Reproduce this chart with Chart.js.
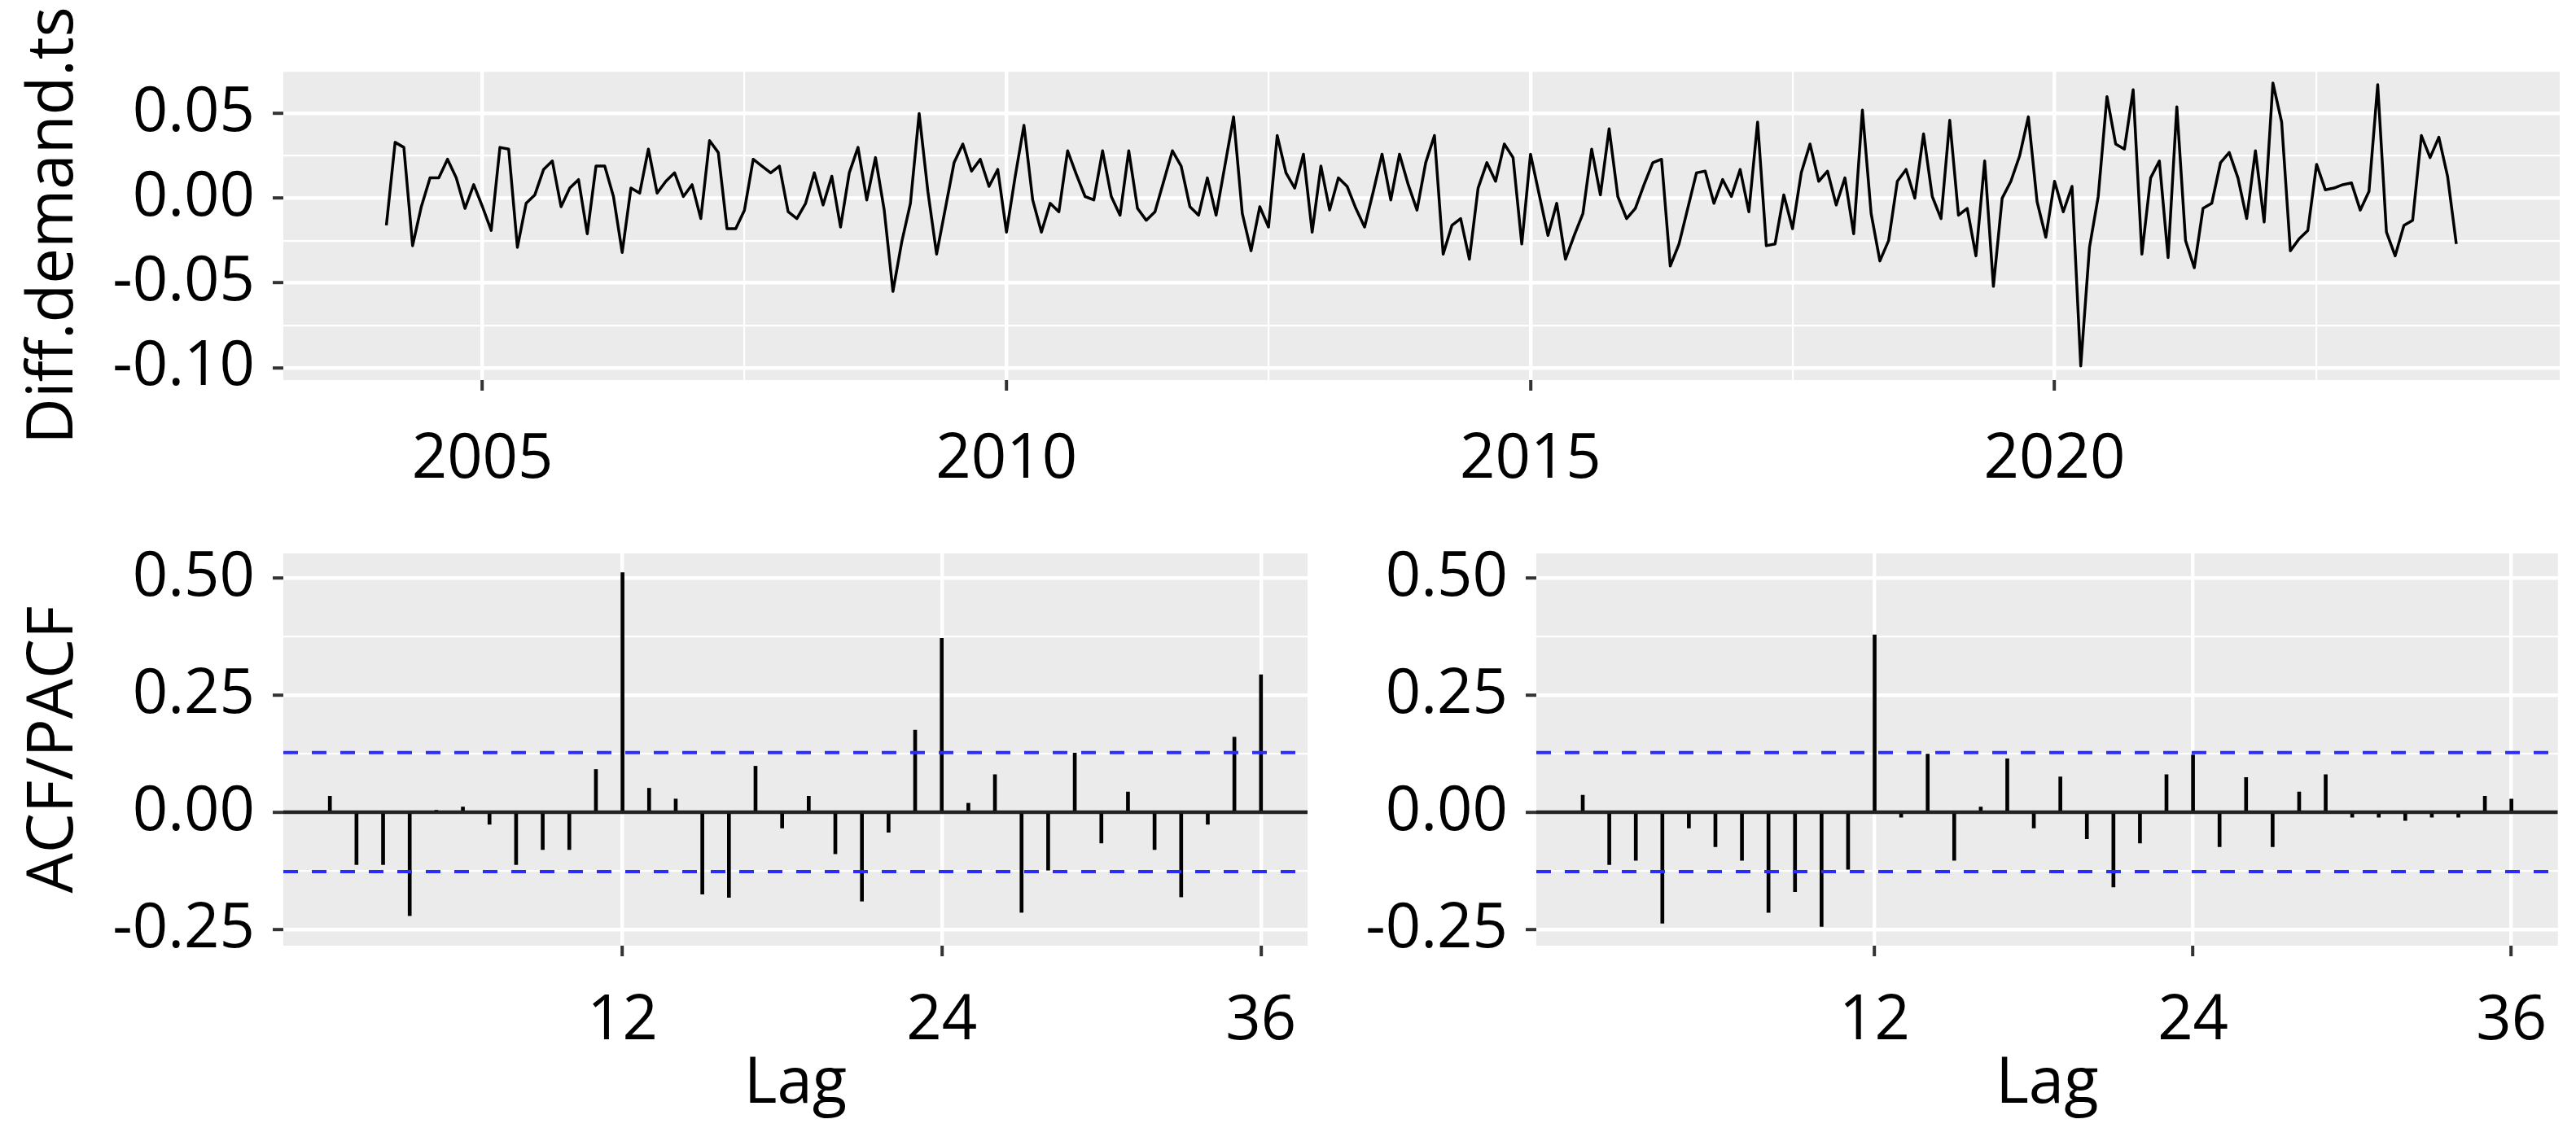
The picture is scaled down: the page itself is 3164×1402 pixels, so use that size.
<!DOCTYPE html>
<html>
<head>
<meta charset="utf-8">
<script src="https://cdn.jsdelivr.net/npm/chart.js@4.4.1/dist/chart.umd.min.js"></script>
<style>
  html, body { margin: 0; padding: 0; background: #fff; }
  #wrap { position: relative; width: 3164px; height: 1402px; overflow: hidden; }
  canvas { position: absolute; }
</style>
</head>
<body>
<div id="wrap">
  <canvas id="tsChart" width="3164" height="600" style="left:0;top:0"></canvas>
  <canvas id="acfChart" width="1640" height="802" style="left:0;top:600px"></canvas>
  <canvas id="pacfChart" width="1524" height="802" style="left:1640px;top:600px"></canvas>
</div>
<script>
// monthly differenced demand, Feb 2004 .. Nov 2023
const startYear = 2004;
const startMonth = 2;
const diffDemand = [
  -0.016, 0.033, 0.030, -0.028, -0.005, 0.012, 0.012, 0.023, 0.012, -0.006, 0.008,
  -0.005, -0.019, 0.030, 0.029, -0.029, -0.003, 0.002, 0.017, 0.022, -0.005, 0.006, 0.011,
  -0.021, 0.019, 0.019, 0.001, -0.032, 0.006, 0.003, 0.029, 0.003, 0.010, 0.015, 0.001,
  0.008, -0.012, 0.034, 0.027, -0.018, -0.018, -0.007, 0.023, 0.019, 0.015, 0.019, -0.008,
  -0.012, -0.003, 0.015, -0.004, 0.013, -0.017, 0.015, 0.030, -0.001, 0.024, -0.007, -0.055,
  -0.026, -0.003, 0.050, 0.004, -0.033, -0.006, 0.021, 0.032, 0.016, 0.023, 0.007, 0.017,
  -0.020, 0.013, 0.043, -0.001, -0.020, -0.003, -0.008, 0.028, 0.014, 0.001, -0.001, 0.028,
  0.001, -0.010, 0.028, -0.006, -0.013, -0.008, 0.010, 0.028, 0.019, -0.005, -0.010, 0.012,
  -0.010, 0.019, 0.048, -0.009, -0.031, -0.005, -0.017, 0.037, 0.015, 0.006, 0.026, -0.020,
  0.019, -0.007, 0.012, 0.007, -0.006, -0.017, 0.004, 0.026, -0.001, 0.026, 0.008, -0.007,
  0.021, 0.037, -0.033, -0.016, -0.012, -0.036, 0.006, 0.021, 0.010, 0.032, 0.024, -0.027,
  0.026, 0.002, -0.022, -0.003, -0.036, -0.022, -0.009, 0.029, 0.002, 0.041, 0.001, -0.012,
  -0.006, 0.008, 0.021, 0.023, -0.040, -0.027, -0.006, 0.015, 0.016, -0.003, 0.011, 0.001,
  0.017, -0.008, 0.045, -0.028, -0.027, 0.002, -0.018, 0.015, 0.032, 0.010, 0.016, -0.004,
  0.012, -0.021, 0.052, -0.009, -0.037, -0.025, 0.010, 0.017, 0.000, 0.038, 0.001, -0.012,
  0.046, -0.010, -0.006, -0.034, 0.022, -0.052, 0.000, 0.010, 0.025, 0.048, -0.002, -0.023,
  0.010, -0.008, 0.007, -0.099, -0.029, 0.001, 0.060, 0.032, 0.029, 0.064, -0.033, 0.012,
  0.022, -0.035, 0.054, -0.025, -0.041, -0.006, -0.003, 0.021, 0.027, 0.012, -0.012, 0.028,
  -0.014, 0.068, 0.045, -0.031, -0.024, -0.019, 0.020, 0.005, 0.006, 0.008, 0.009, -0.007,
  0.004, 0.067, -0.020, -0.034, -0.016, -0.013, 0.037, 0.024, 0.036, 0.013, -0.027
];
const yearTicks = [2005, 2010, 2015, 2020];
const yearMinor = [2007.5, 2012.5, 2017.5, 2022.5];
const diffTicks = [-0.10, -0.05, 0.00, 0.05];
const diffMinor = [-0.075, -0.025, 0.025, 0.075];

// lags 1..36
const acfValues = [
  0.034, -0.112, -0.112, -0.221, 0.002, 0.011, -0.026, -0.112, -0.080, -0.080, 0.091, 0.511,
  0.051, 0.028, -0.175, -0.182, 0.098, -0.034, 0.034, -0.089, -0.190, -0.043, 0.175, 0.371,
  0.019, 0.080, -0.214, -0.124, 0.126, -0.066, 0.043, -0.080, -0.181, -0.026, 0.160, 0.293
];
const pacfValues = [
  0.036, -0.112, -0.103, -0.237, -0.034, -0.074, -0.103, -0.214, -0.170, -0.244, -0.122, 0.378,
  -0.011, 0.124, -0.103, 0.011, 0.114, -0.034, 0.075, -0.057, -0.160, -0.066, 0.080, 0.122,
  -0.074, 0.074, -0.074, 0.043, 0.080, -0.011, -0.011, -0.018, -0.011, -0.011, 0.034, 0.028
];
const lagTicks = [12, 24, 36];
const corrTicks = [-0.25, 0.00, 0.25, 0.50];
const corrMinor = [-0.125, 0.125, 0.375];
const ciLimit = 0.127;

Chart.defaults.font.family = "'Open Sans', 'Noto Sans', sans-serif";
Chart.defaults.color = "#000";

const panelBg = {
  id: "panelBg",
  beforeDraw(chart) {
    const a = chart.chartArea;
    const c = chart.ctx;
    c.save();
    c.fillStyle = "#ebebeb";
    c.fillRect(a.left, a.top, a.right - a.left, a.bottom - a.top);
    c.restore();
  }
};

function axis(o) {
  const majors = o.majors;
  const minors = o.minors || [];
  const isMajor = ctx => ctx.tick && majors.includes(ctx.tick.value);
  return {
    type: "linear",
    min: o.min,
    max: o.max,
    offset: false,
    afterBuildTicks: s => {
      s.ticks = majors.concat(minors).sort((a, b) => a - b).map(v => ({ value: v }));
    },
    afterFit: s => {
      if (s.isHorizontal()) s.height = o.size;
      else s.width = o.size;
    },
    border: { display: false },
    grid: {
      offset: false,
      color: "#fff",
      lineWidth: ctx => isMajor(ctx) ? 4.4 : 2.2,
      tickLength: 13,
      tickWidth: 4,
      tickColor: ctx => isMajor(ctx) ? "#333" : "rgba(0,0,0,0)"
    },
    ticks: {
      autoSkip: false,
      maxRotation: 0,
      padding: o.padding,
      font: { size: 76 },
      callback: v => majors.includes(v) ? o.fmt(v) : ""
    },
    title: o.title ? {
      display: true,
      text: o.title,
      font: { size: 78 },
      padding: o.titlePad
    } : { display: false }
  };
}

const baseOpts = {
  responsive: false,
  animation: false,
  events: [],
  plugins: { legend: { display: false }, tooltip: { enabled: false } }
};

new Chart(document.getElementById("tsChart"), {
  type: "line",
  data: {
    datasets: [{
      data: diffDemand.map((v, i) => ({ x: startYear + (startMonth - 1 + i) / 12, y: v })),
      borderColor: "#000",
      borderWidth: 3.5,
      borderJoinStyle: "round",
      pointRadius: 0,
      tension: 0
    }]
  },
  options: {
    ...baseOpts,
    layout: { padding: { top: 87, right: 20, left: 0, bottom: 0 } },
    scales: {
      x: axis({ min: 2003.10, max: 2024.82, majors: yearTicks, minors: yearMinor,
                fmt: v => String(v), size: 133, padding: 40 }),
      y: axis({ min: -0.1073, max: 0.0752, majors: diffTicks, minors: diffMinor,
                fmt: v => v.toFixed(2), size: 348, padding: 22,
                title: "Diff.demand.ts", titlePad: { top: 20, bottom: 0 } })
    }
  },
  plugins: [panelBg]
});

function corrChart(id, values, yTitle, yWidth, padRight) {
  const flat = y => [{ x: -0.75, y: y }, { x: 37.75, y: y }];
  const dashed = { type: "line", borderColor: "#2b2bff", borderWidth: 4, borderDash: [18, 17], pointRadius: 0 };
  return new Chart(document.getElementById(id), {
    type: "bar",
    data: {
      datasets: [
        { ...dashed, data: flat(ciLimit) },
        { ...dashed, data: flat(-ciLimit) },
        { type: "bar", data: values.map((v, i) => ({ x: i + 1, y: v })), backgroundColor: "#000", barThickness: 4 },
        { type: "line", data: flat(0), borderColor: "#222", borderWidth: 4.5, pointRadius: 0 }
      ]
    },
    options: {
      ...baseOpts,
      layout: { padding: { top: 80, right: padRight, left: 0, bottom: 0 } },
      scales: {
        x: axis({ min: -0.75, max: 37.75, majors: lagTicks, fmt: v => String(v), size: 240, padding: 35,
                  title: "Lag", titlePad: { top: 0, bottom: 22 } }),
        y: axis({ min: -0.285, max: 0.552, majors: corrTicks, minors: corrMinor,
                  fmt: v => v.toFixed(2), size: yWidth, padding: 22,
                  title: yTitle, titlePad: { top: 20, bottom: 0 } })
      }
    },
    plugins: [panelBg]
  });
}

corrChart("acfChart", acfValues, "ACF/PACF", 348, 34);
corrChart("pacfChart", pacfValues, null, 247, 19);
</script>
</body>
</html>
